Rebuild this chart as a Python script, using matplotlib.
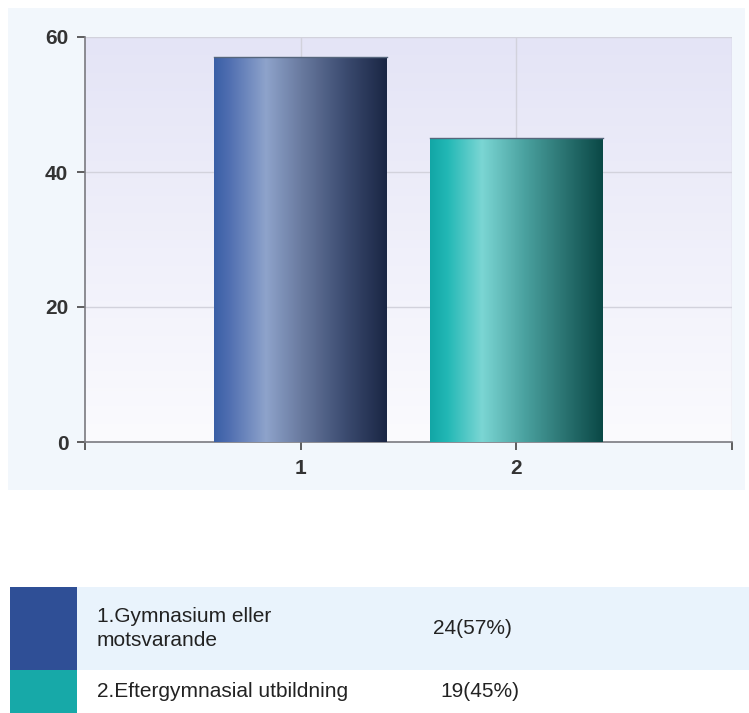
import matplotlib

matplotlib.use("Agg")
import numpy as np
from matplotlib import pyplot as plt
from matplotlib.colors import LinearSegmentedColormap
from matplotlib.patches import Rectangle

categories = ["1", "2"]
values = [57, 45]
legend_labels = ["1.Gymnasium eller\nmotsvarande", "2.Eftergymnasial utbildning"]
legend_values = ["24(57%)", "19(45%)"]
swatch_colors = ["#2f4f96", "#17a9a8"]

bar_gradients = [
    [(0.0, "#3a5fa6"), (0.08, "#4e6db0"), (0.3, "#8ea3cb"), (0.5, "#6a7ba0"),
     (0.75, "#3d4d72"), (1.0, "#1a2644")],
    [(0.0, "#12a6a6"), (0.1, "#22b8b5"), (0.3, "#7bd6d4"), (0.55, "#4aa19f"),
     (0.8, "#276f6d"), (1.0, "#0a4846")],
]

FONT = ["Liberation Sans", "DejaVu Sans"]

W, H = 749, 713
fig = plt.figure(figsize=(W / 100, H / 100), dpi=100)
fig.patch.set_facecolor("white")

# light blue backdrop behind the chart
fig.patches.append(Rectangle((8 / W, 1 - 490 / H), 737 / W, 482 / H,
                             transform=fig.transFigure, facecolor="#f2f7fc",
                             edgecolor="none", zorder=-10))

ax = fig.add_axes([85 / W, 1 - 442 / H, 647 / W, 405 / H])
ax.set_xlim(0, 3)
ax.set_ylim(0, 60)

# plot area gradient
bg = LinearSegmentedColormap.from_list("bg", ["#fbfbfe", "#e4e4f6"])
ax.imshow(np.linspace(0, 1, 256).reshape(-1, 1), cmap=bg, aspect="auto",
          extent=[0, 3, 0, 60], origin="lower", zorder=0)

for x in [1, 2, 3]:
    ax.axvline(x, color="#d2d2dc", lw=1, zorder=1)
for y in [20, 40, 60]:
    ax.axhline(y, color="#d2d2dc", lw=1, zorder=1)

xpos = np.arange(1, len(categories) + 1)
bars = ax.bar(xpos, values, width=0.8, color="none", zorder=2)
for b, stops in zip(bars, bar_gradients):
    cmap = LinearSegmentedColormap.from_list("g", stops)
    x0, w, h = b.get_x(), b.get_width(), b.get_height()
    ax.imshow(np.linspace(0, 1, 256).reshape(1, -1), cmap=cmap, aspect="auto",
              extent=[x0, x0 + w, 0, h], zorder=3)
    ax.plot([x0, x0 + w], [h, h], color="#56667c", lw=1, zorder=4)

ax.set_xlim(0, 3)
ax.set_ylim(0, 60)
ax.set_xticks([0, 1, 2, 3])
ax.set_xticklabels([""] + categories + [""])
ax.set_yticks([0, 20, 40, 60])
for s in ["top", "right"]:
    ax.spines[s].set_visible(False)
for s in ["left", "bottom"]:
    ax.spines[s].set_color("#7a7a80")
    ax.spines[s].set_linewidth(1.2)
ax.tick_params(colors="#444444", length=6, width=1.2, labelsize=15, pad=6)
for t in ax.get_xticklabels() + ax.get_yticklabels():
    t.set_fontfamily(FONT)
    t.set_fontweight("bold")
    t.set_color("#333333")

# legend table
rows = [(587, 670), (670, 713)]
value_x = [433, 440]
for i, (top, bot) in enumerate(rows):
    y0 = 1 - bot / H
    hgt = (bot - top) / H
    if i == 0:
        fig.patches.append(Rectangle((77 / W, y0), (W - 77) / W, hgt,
                                     transform=fig.transFigure, facecolor="#e9f3fc",
                                     edgecolor="none"))
    fig.patches.append(Rectangle((10 / W, y0), 67 / W, hgt,
                                 transform=fig.transFigure, facecolor=swatch_colors[i],
                                 edgecolor="none"))
    yc = 1 - (top + bot) / 2 / H
    fig.text(97 / W, yc, legend_labels[i], ha="left", va="center", fontsize=15,
             color="#222222", family=FONT, linespacing=1.4)
    fig.text(value_x[i] / W, yc, legend_values[i], ha="left", va="center",
             fontsize=15, color="#222222", family=FONT)

plt.savefig("out.png", dpi=100)
plt.close()
